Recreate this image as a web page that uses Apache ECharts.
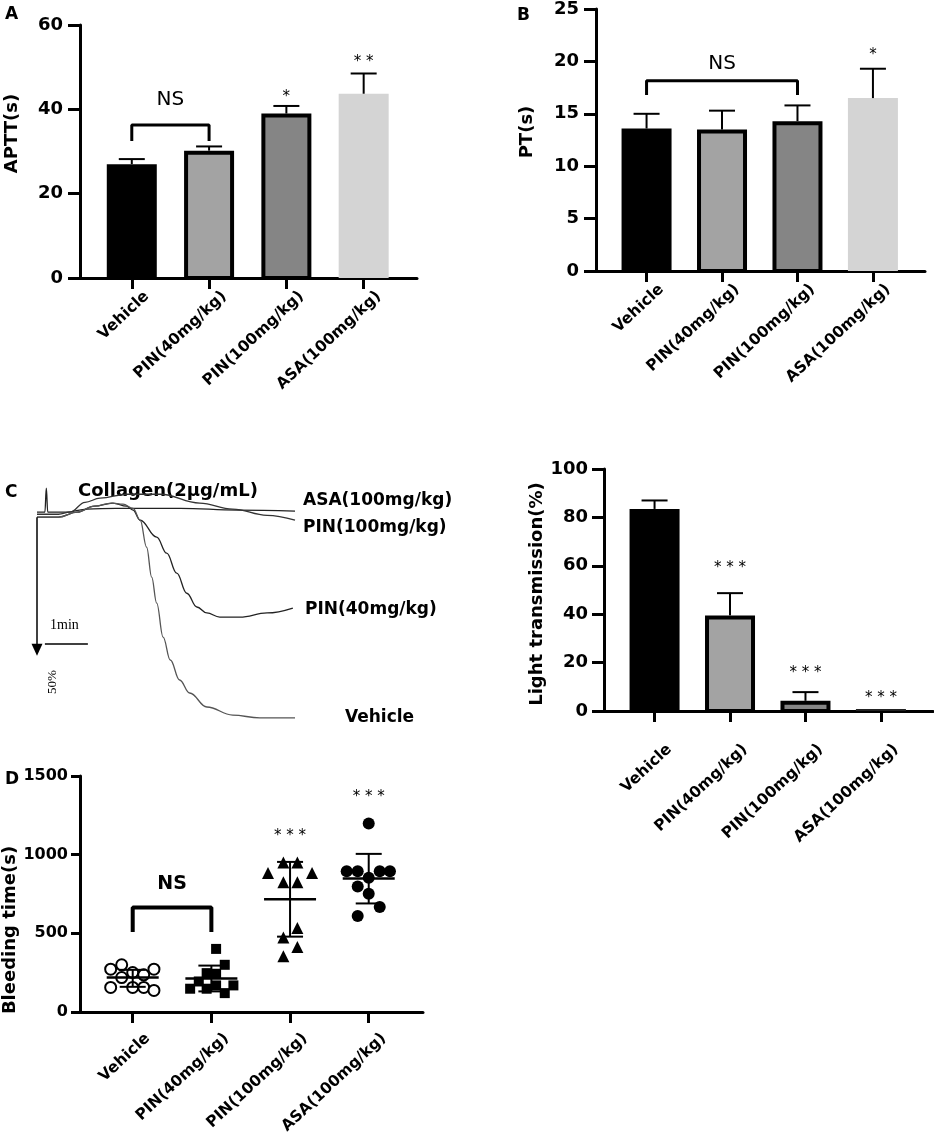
<!DOCTYPE html>
<html>
<head>
<meta charset="utf-8">
<script src="https://cdn.jsdelivr.net/npm/echarts@6/dist/echarts.min.js"></script>
<style>
  html, body { margin: 0; padding: 0; background: #fff; }
  #main { width: 934px; height: 1141px; }
</style>
</head>
<body>
<div id="main"></div>
<script>
// groups shared by every panel
const groups = ['Vehicle', 'PIN(40mg/kg)', 'PIN(100mg/kg)', 'ASA(100mg/kg)'];
const groupPos = [0, 1, 2, 3];

// A: APTT (s), mean and upper error
const apttMean = [27, 30.2, 39, 43.7];
const apttErr = [28.2, 31.2, 40.8, 48.5];
const apttStars = ['', '', '*', '* *'];
const apttStarY = [null, null, 42.9, 51.2];
const apttNS = [0, 1, 36.3, 32.5, 42.2]; // from, to, bracket top, bracket foot, label y

// B: PT (s)
const ptMean = [13.6, 13.5, 14.3, 16.5];
const ptErr = [15.0, 15.3, 15.8, 19.3];
const ptStars = ['', '', '', '*'];
const ptStarY = [null, null, null, 20.6];
const ptNS = [0, 2, 18.15, 16.8, 19.8];

// C: aggregation traces, [time s, aggregation %]
const traceASA = [[0, 0], [11, 0], [13, -9.2], [15, 0], [40, 0], [70, -1.2], [110, -1.5], [200, -1.5], [280, -0.8], [360, -0.4]];
const tracePIN100 = [[0, 0.8], [30, 0.8], [46, 0], [67, -3.8], [88, -5.4], [126, -6.9], [172, -6.9], [227, -3.5], [273, -1.2], [321, 1.2], [360, 3.1]];
const tracePIN40 = [[0, 1.9], [30, 1.9], [56, 0], [80, -2.3], [106, -3.5], [125, -2.3], [134, -0.8], [144, 3.1], [167, 9.6], [181, 15.8], [195, 23.5], [209, 31.2], [223, 36.5], [237, 38.8], [255, 40.4], [283, 40.4], [321, 38.8], [357, 36.9]];
const traceVehicle = [[0, 1.9], [30, 1.9], [56, 0], [80, -2.3], [104, -3.5], [120, -3.1], [134, -1.5], [144, 3.1], [153, 13.5], [160, 25], [167, 35], [176, 48.1], [186, 56.9], [199, 64.6], [213, 69.6], [237, 75], [273, 78.1], [311, 79.2], [360, 79.2]];
const scaleMinute = 60;
const scalePct = 50;

// C: light transmission (%)
const ltMean = [83.5, 39.5, 4.2, 0.8];
const ltErr = [87, 48.7, 7.8, null];
const ltStars = ['', '* * *', '* * *', '* * *'];
const ltStarY = [null, 58.9, 15.6, 5.3];

// D: bleeding time (s), individual animals
const bleedVehicle = [272, 300, 251, 236, 272, 219, 156, 156, 156, 137];
const bleedPIN40 = [401, 300, 247, 243, 194, 169, 169, 148, 148, 120];
const bleedPIN100 = [951, 951, 884, 884, 825, 825, 534, 473, 413, 354];
const bleedASA = [1198, 895, 895, 895, 895, 853, 798, 751, 667, 610];
const jitterVehicle = [-0.28, -0.14, 0, 0.14, 0.27, -0.14, -0.28, 0, 0.14, 0.27];
const jitterPIN40 = [0.06, 0.17, -0.06, 0.06, -0.16, 0.06, 0.28, -0.27, -0.06, 0.17];
const jitterPIN100 = [-0.085, 0.093, -0.28, 0.28, -0.085, 0.093, 0.093, -0.085, 0.093, -0.085];
const jitterASA = [0, -0.28, -0.14, 0.14, 0.27, 0, -0.14, 0, 0.14, -0.14];
const bleedMean = [219, 213, 717, 848];
const bleedSdHi = [268, 295, 954, 1005];
const bleedSdLo = [160, 131, 479, 690];
const bleedStars = ['', '', '* * *', '* * *'];
const bleedStarY = [null, null, 1119, 1367];
const bleedNS = [0, 1, 664, 508, 815];

const FONT = '"DejaVu Sans", sans-serif';
const barFill = ['#000000', '#a3a3a3', '#858585', '#d4d4d4'];
const barFillC = ['#000000', '#a3a3a3', '#858585', '#222222'];
const barBorder = [0, 4, 4, 0];

const chart = echarts.init(document.getElementById('main'));

function groupXAxis(gridIndex, margin) {
  return {
    type: 'value', gridIndex: gridIndex, min: -0.67, max: 3.69,
    axisLine: { show: true, onZero: false, lineStyle: { color: '#000', width: 3 } },
    axisTick: { show: true, customValues: groupPos, length: 11, lineStyle: { color: '#000', width: 3 } },
    axisLabel: {
      show: true, customValues: groupPos, rotate: 43, margin: margin,
      align: 'right', verticalAlign: 'top', lineHeight: 44,
      formatter: v => groups[Math.round(v)] || '',
      color: '#000', fontFamily: FONT, fontWeight: 'bold', fontSize: 15.5
    },
    splitLine: { show: false }
  };
}

function valueYAxis(gridIndex, max, interval, name, nameGap, namePad, fontSize, margin, tickLen) {
  return {
    type: 'value', gridIndex: gridIndex, min: 0, max: max, interval: interval,
    name: name, nameLocation: 'middle', nameGap: nameGap,
    nameTextStyle: { color: '#000', fontFamily: FONT, fontWeight: 'bold', fontSize: 18, padding: namePad },
    axisLine: { show: true, onZero: false, lineStyle: { color: '#000', width: 3 } },
    axisTick: { show: true, length: tickLen, lineStyle: { color: '#000', width: 3 } },
    axisLabel: { color: '#000', fontFamily: FONT, fontWeight: 'bold', fontSize: fontSize, margin: margin, formatter: v => String(v) },
    splitLine: { show: false }
  };
}

function barSeries(ax, means, fills) {
  return {
    type: 'custom', xAxisIndex: ax, yAxisIndex: ax, z: 3,
    data: means.map((m, i) => [groupPos[i], m]),
    renderItem: function (params, api) {
      const i = params.dataIndex;
      const base = api.coord([api.value(0), 0]);
      const top = api.coord([api.value(0), api.value(1)]);
      const w = 50, b = barBorder[i];
      const h = base[1] - top[1];
      if (b && h > b) {
        return {
          type: 'rect',
          shape: { x: base[0] - w / 2 + b / 2, y: top[1] + b / 2, width: w - b, height: h - b / 2 },
          style: { fill: fills[i], stroke: '#000', lineWidth: b }
        };
      }
      return {
        type: 'rect',
        shape: { x: base[0] - w / 2, y: base[1] - Math.max(h, 2), width: w, height: Math.max(h, 2) },
        style: { fill: fills[i] }
      };
    }
  };
}

function errSeries(ax, means, tops) {
  return {
    type: 'custom', xAxisIndex: ax, yAxisIndex: ax, z: 4,
    data: means.map((m, i) => [groupPos[i], m, tops[i] == null ? m : tops[i]]),
    renderItem: function (params, api) {
      if (tops[params.dataIndex] == null) return null;
      const a = api.coord([api.value(0), api.value(1)]);
      const b = api.coord([api.value(0), api.value(2)]);
      const cap = 26;
      return {
        type: 'group', children: [
          { type: 'line', shape: { x1: a[0], y1: a[1], x2: b[0], y2: b[1] }, style: { stroke: '#000', lineWidth: 2 } },
          { type: 'line', shape: { x1: b[0] - cap / 2, y1: b[1], x2: b[0] + cap / 2, y2: b[1] }, style: { stroke: '#000', lineWidth: 2 } }
        ]
      };
    }
  };
}

function textSeries(ax, xs, ys, texts, font) {
  const idx = texts.map((t, i) => i).filter(i => texts[i] && ys[i] != null);
  return {
    type: 'custom', xAxisIndex: ax, yAxisIndex: ax, z: 5,
    data: idx.map(i => [xs[i], ys[i]]),
    renderItem: function (params, api) {
      const p = api.coord([api.value(0), api.value(1)]);
      return {
        type: 'text', x: p[0], y: p[1],
        style: { text: texts[idx[params.dataIndex]], font: font, fill: '#000', align: 'center', verticalAlign: 'middle' }
      };
    }
  };
}

function bracketSeries(ax, br, width) {
  return {
    type: 'line', xAxisIndex: ax, yAxisIndex: ax, z: 4, symbol: 'none', silent: true,
    data: [[br[0], br[3]], [br[0], br[2]], [br[1], br[2]], [br[1], br[3]]],
    lineStyle: { color: '#000', width: width }
  };
}

function nsSeries(ax, br, font) {
  return textSeries(ax, [(br[0] + br[1]) / 2], [br[4]], ['NS'], font);
}

function traceSeries(data, color) {
  return {
    type: 'line', xAxisIndex: 2, yAxisIndex: 2, data: data, symbol: 'none',
    smooth: 0.4, smoothMonotone: 'x', silent: true,
    lineStyle: { color: color, width: 1.3 }
  };
}

function dotSeries(values, jitter, gi, symbol, filled, size) {
  return {
    type: 'scatter', xAxisIndex: 4, yAxisIndex: 4, z: 3,
    data: values.map((v, i) => [groupPos[gi] + jitter[i], v]),
    symbol: symbol, symbolSize: size,
    itemStyle: filled
      ? { color: '#000', opacity: 1 }
      : { color: '#fff', borderColor: '#000', borderWidth: 2, opacity: 1 }
  };
}

const sdSeries = {
  type: 'custom', xAxisIndex: 4, yAxisIndex: 4, z: 4,
  data: bleedMean.map((m, i) => [groupPos[i], m, bleedSdLo[i], bleedSdHi[i]]),
  renderItem: function (params, api) {
    const m = api.coord([api.value(0), api.value(1)]);
    const lo = api.coord([api.value(0), api.value(2)]);
    const hi = api.coord([api.value(0), api.value(3)]);
    const st = { stroke: '#000', lineWidth: 2 };
    return {
      type: 'group', children: [
        { type: 'line', shape: { x1: m[0] - 26, y1: m[1], x2: m[0] + 26, y2: m[1] }, style: { stroke: '#000', lineWidth: 2.5 } },
        { type: 'line', shape: { x1: lo[0], y1: lo[1], x2: hi[0], y2: hi[1] }, style: st },
        { type: 'line', shape: { x1: lo[0] - 13, y1: lo[1], x2: lo[0] + 13, y2: lo[1] }, style: st },
        { type: 'line', shape: { x1: hi[0] - 13, y1: hi[1], x2: hi[0] + 13, y2: hi[1] }, style: st }
      ]
    };
  }
};

const starFont = '15px ' + FONT;

const option = {
  backgroundColor: '#fff',
  animation: false,
  grid: [
    { left: 80, top: 25, width: 337, height: 253, outerBoundsMode: 'none' },
    { left: 596, top: 9, width: 329, height: 262, outerBoundsMode: 'none' },
    { left: 37, top: 481, width: 258, height: 239, outerBoundsMode: 'none' },
    { left: 604, top: 469, width: 329, height: 242, outerBoundsMode: 'none' },
    { left: 80, top: 776, width: 343, height: 236, outerBoundsMode: 'none' }
  ],
  xAxis: [
    groupXAxis(0, 0),
    groupXAxis(1, 0),
    { type: 'value', gridIndex: 2, min: 0, max: 360, show: false },
    groupXAxis(3, 20),
    groupXAxis(4, 8)
  ],
  yAxis: [
    valueYAxis(0, 60, 20, 'APTT(s)', 59, [0, 0, 0, 36], 18, 17, 12),
    valueYAxis(1, 25, 5, 'PT(s)', 60, [0, 0, 0, 16], 18, 17, 12),
    { type: 'value', gridIndex: 2, min: -12, max: 80, inverse: true, show: false },
    valueYAxis(3, 100, 20, 'Light transmission(%)', 52, [0, 8, 0, 0], 18, 16, 12),
    valueYAxis(4, 1500, 500, 'Bleeding time(s)', 59, [0, 72, 0, 0], 16, 12, 9)
  ],
  graphic: [
    { type: 'text', left: 5, top: 6, style: { text: 'A', font: 'bold 17px ' + FONT, fill: '#000' } },
    { type: 'text', left: 517, top: 7, style: { text: 'B', font: 'bold 17px ' + FONT, fill: '#000' } },
    { type: 'text', left: 5, top: 484, style: { text: 'C', font: 'bold 17px ' + FONT, fill: '#000' } },
    { type: 'text', left: 5, top: 771, style: { text: 'D', font: 'bold 17px ' + FONT, fill: '#000' } },
    { type: 'text', left: 78, top: 482, style: { text: 'Collagen(2μg/mL)', font: 'bold 18px ' + FONT, fill: '#000' } },
    { type: 'text', left: 303, top: 492, style: { text: 'ASA(100mg/kg)', font: 'bold 17px ' + FONT, fill: '#000' } },
    { type: 'text', left: 303, top: 519, style: { text: 'PIN(100mg/kg)', font: 'bold 17px ' + FONT, fill: '#000' } },
    { type: 'text', left: 305, top: 601, style: { text: 'PIN(40mg/kg)', font: 'bold 17px ' + FONT, fill: '#000' } },
    { type: 'text', left: 345, top: 709, style: { text: 'Vehicle', font: 'bold 17px ' + FONT, fill: '#000' } },
    { type: 'text', left: 50, top: 618, style: { text: '1min', font: '14px "Liberation Serif", serif', fill: '#000' } },
    { type: 'text', x: 46, y: 694, rotation: Math.PI / 2, style: { text: '50%', font: '13px "Liberation Serif", serif', fill: '#000' } }
  ],
  series: [
    // A
    barSeries(0, apttMean, barFill),
    errSeries(0, apttMean, apttErr),
    bracketSeries(0, apttNS, 3),
    nsSeries(0, apttNS, '20px ' + FONT),
    textSeries(0, groupPos, apttStarY, apttStars, starFont),
    // B
    barSeries(1, ptMean, barFill),
    errSeries(1, ptMean, ptErr),
    bracketSeries(1, ptNS, 3),
    nsSeries(1, ptNS, '20px ' + FONT),
    textSeries(1, groupPos, ptStarY, ptStars, starFont),
    // C traces
    traceSeries(traceASA, '#222'),
    traceSeries(tracePIN100, '#333'),
    traceSeries(tracePIN40, '#222'),
    Object.assign(traceSeries(traceVehicle, '#555'), {
      markLine: {
        silent: true, animation: false,
        label: { show: false },
        data: [
          [{ coord: [0, 2], symbol: 'none' }, { coord: [0, scalePct + 3], symbol: 'triangle', symbolSize: [11, 12], symbolRotate: 180 }],
          [{ coord: [11, scalePct + 0.5], symbol: 'none' }, { coord: [11 + scaleMinute, scalePct + 0.5], symbol: 'none' }]
        ],
        lineStyle: { color: '#000', width: 1.5, type: 'solid' }
      }
    }),
    // C bars
    barSeries(3, ltMean, barFillC),
    errSeries(3, ltMean, ltErr),
    textSeries(3, groupPos, ltStarY, ltStars, starFont),
    // D
    dotSeries(bleedVehicle, jitterVehicle, 0, 'circle', false, 11),
    dotSeries(bleedPIN40, jitterPIN40, 1, 'rect', true, 10),
    dotSeries(bleedPIN100, jitterPIN100, 2, 'triangle', true, 12),
    dotSeries(bleedASA, jitterASA, 3, 'circle', true, 12),
    sdSeries,
    bracketSeries(4, bleedNS, 4),
    nsSeries(4, bleedNS, 'bold 19px ' + FONT),
    textSeries(4, groupPos, bleedStarY, bleedStars, starFont)
  ]
};

chart.setOption(option);
</script>
</body>
</html>
